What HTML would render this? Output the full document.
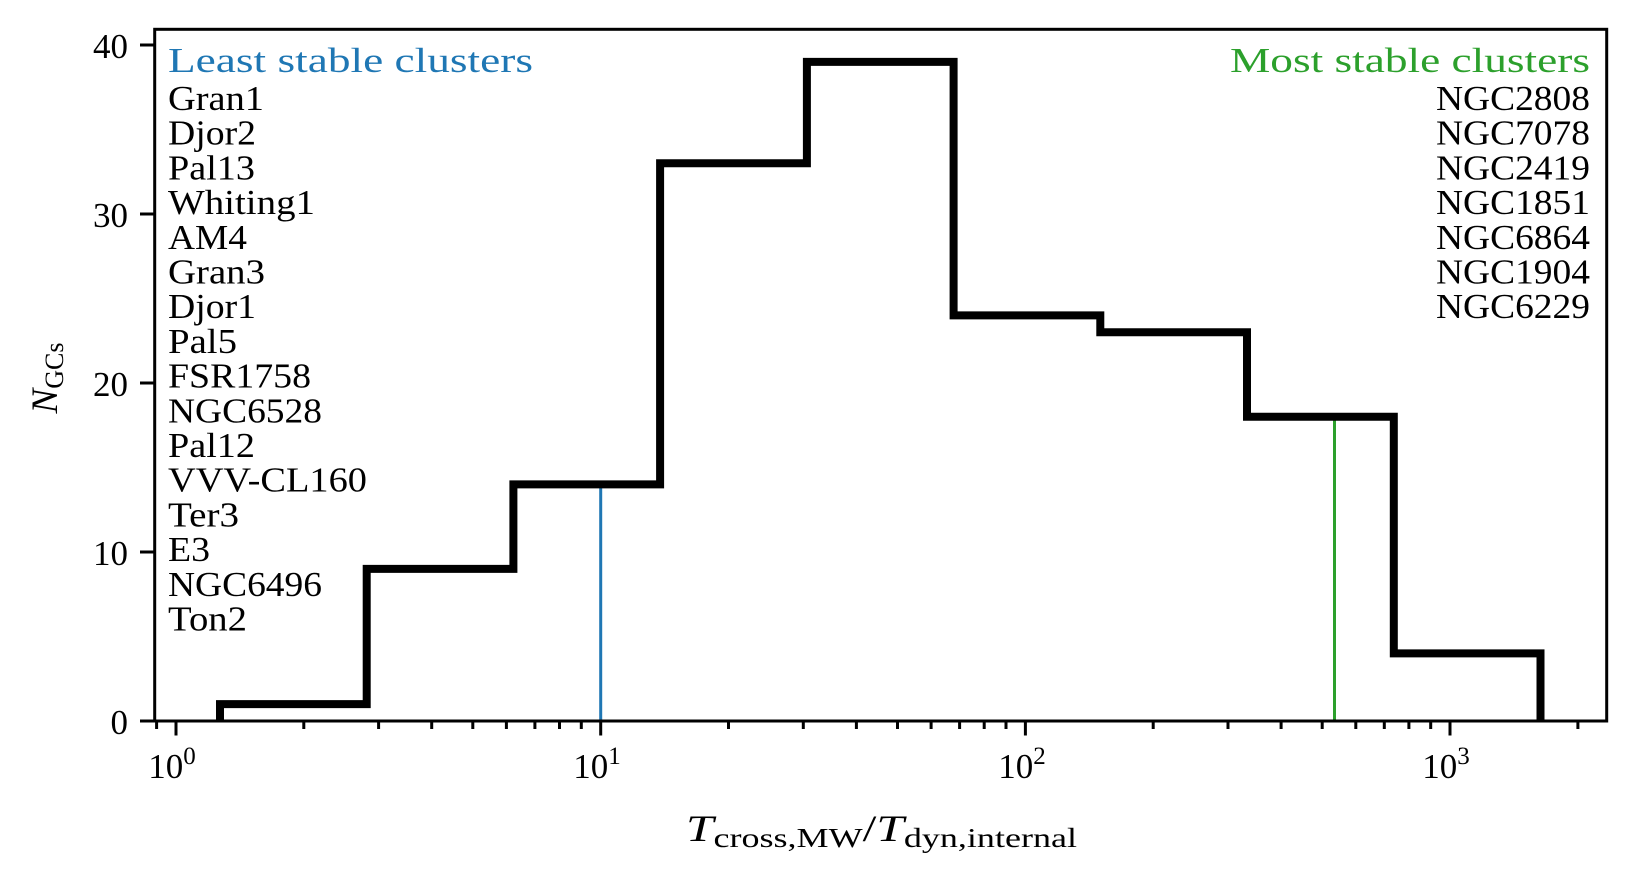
<!DOCTYPE html>
<html><head><meta charset="utf-8"><style>
html,body{margin:0;padding:0;background:#fff;}
svg{display:block;}
text{font-family:"Liberation Serif","DejaVu Serif",serif;}
</style></head><body>
<svg width="1637" height="878" viewBox="0 0 1637 878" xmlns="http://www.w3.org/2000/svg">
<rect width="1637" height="878" fill="#fff"/>
<line x1="600.7" y1="721" x2="600.7" y2="484.4" stroke="#1f77b4" stroke-width="3"/>
<line x1="1334.5" y1="721" x2="1334.5" y2="416.8" stroke="#2ca02c" stroke-width="3"/>
<polyline fill="none" stroke="#000" stroke-width="8" stroke-linejoin="miter"
points="220,721 220,704.1 366.7,704.1 366.7,568.9 513.4,568.9 513.4,484.4 660.1,484.4 660.1,163.3 806.9,163.3 806.9,61.9 953.6,61.9 953.6,315.4 1100.3,315.4 1100.3,332.3 1247,332.3 1247,416.8 1393.8,416.8 1393.8,653.4 1540.5,653.4 1540.5,721"/>
<rect x="154.7" y="29.3" width="1452" height="691.7" fill="none" stroke="#000" stroke-width="3"/>
<g stroke="#000" stroke-width="3">
<line x1="140" y1="721" x2="154.7" y2="721"/>
<line x1="140" y1="552" x2="154.7" y2="552"/>
<line x1="140" y1="383" x2="154.7" y2="383"/>
<line x1="140" y1="214" x2="154.7" y2="214"/>
<line x1="140" y1="45" x2="154.7" y2="45"/>
</g>
<g font-size="35" text-anchor="end">
<text x="128" y="734">0</text>
<text x="128" y="565">10</text>
<text x="128" y="396">20</text>
<text x="128" y="227">30</text>
<text x="128" y="58">40</text>
</g>
<g stroke="#000" stroke-width="3">
<line x1="176" y1="721" x2="176" y2="735.5"/>
<line x1="600.7" y1="721" x2="600.7" y2="735.5"/>
<line x1="1025.4" y1="721" x2="1025.4" y2="735.5"/>
<line x1="1450" y1="721" x2="1450" y2="735.5"/>
<line x1="156.6" y1="721" x2="156.6" y2="729"/>
<line x1="303.8" y1="721" x2="303.8" y2="729"/><line x1="378.6" y1="721" x2="378.6" y2="729"/><line x1="431.7" y1="721" x2="431.7" y2="729"/><line x1="472.8" y1="721" x2="472.8" y2="729"/><line x1="506.4" y1="721" x2="506.4" y2="729"/><line x1="534.9" y1="721" x2="534.9" y2="729"/><line x1="559.5" y1="721" x2="559.5" y2="729"/><line x1="581.3" y1="721" x2="581.3" y2="729"/>
<line x1="728.5" y1="721" x2="728.5" y2="729"/><line x1="803.3" y1="721" x2="803.3" y2="729"/><line x1="856.4" y1="721" x2="856.4" y2="729"/><line x1="897.5" y1="721" x2="897.5" y2="729"/><line x1="931.1" y1="721" x2="931.1" y2="729"/><line x1="959.6" y1="721" x2="959.6" y2="729"/><line x1="984.2" y1="721" x2="984.2" y2="729"/><line x1="1006" y1="721" x2="1006" y2="729"/>
<line x1="1153.2" y1="721" x2="1153.2" y2="729"/><line x1="1228" y1="721" x2="1228" y2="729"/><line x1="1281.1" y1="721" x2="1281.1" y2="729"/><line x1="1322.2" y1="721" x2="1322.2" y2="729"/><line x1="1355.8" y1="721" x2="1355.8" y2="729"/><line x1="1384.3" y1="721" x2="1384.3" y2="729"/><line x1="1408.9" y1="721" x2="1408.9" y2="729"/><line x1="1430.7" y1="721" x2="1430.7" y2="729"/>
<line x1="1577.9" y1="721" x2="1577.9" y2="729"/>
</g>
<g font-size="35" text-anchor="middle">
<text x="172" y="778">10<tspan font-size="25" dy="-14">0</tspan></text>
<text x="597" y="778">10<tspan font-size="25" dy="-14">1</tspan></text>
<text x="1022" y="778">10<tspan font-size="25" dy="-14">2</tspan></text>
<text x="1446" y="778">10<tspan font-size="25" dy="-14">3</tspan></text>
</g>
<text x="686" y="841" font-size="37" textLength="391" lengthAdjust="spacingAndGlyphs"><tspan font-style="italic">T</tspan><tspan font-size="27" dy="6">cross,MW</tspan><tspan dy="-6">/</tspan><tspan font-style="italic">T</tspan><tspan font-size="27" dy="6">dyn,internal</tspan></text>
<text transform="translate(57,378) rotate(-90)" font-size="37" text-anchor="middle"><tspan font-style="italic">N</tspan><tspan font-size="26" dy="6">GCs</tspan></text>
<g font-size="35" lengthAdjust="spacingAndGlyphs">
<text x="168" y="72" fill="#1f77b4" textLength="365" lengthAdjust="spacingAndGlyphs">Least stable clusters</text>
<text x="168" y="110" textLength="96" lengthAdjust="spacingAndGlyphs">Gran1</text>
<text x="168" y="144.7" textLength="88" lengthAdjust="spacingAndGlyphs">Djor2</text>
<text x="168" y="179.4" textLength="87" lengthAdjust="spacingAndGlyphs">Pal13</text>
<text x="168" y="214.1" textLength="147" lengthAdjust="spacingAndGlyphs">Whiting1</text>
<text x="168" y="248.8" textLength="79" lengthAdjust="spacingAndGlyphs">AM4</text>
<text x="168" y="283.5" textLength="97" lengthAdjust="spacingAndGlyphs">Gran3</text>
<text x="168" y="318.2" textLength="88" lengthAdjust="spacingAndGlyphs">Djor1</text>
<text x="168" y="352.9" textLength="69" lengthAdjust="spacingAndGlyphs">Pal5</text>
<text x="168" y="387.6" textLength="143" lengthAdjust="spacingAndGlyphs">FSR1758</text>
<text x="168" y="422.3" textLength="154" lengthAdjust="spacingAndGlyphs">NGC6528</text>
<text x="168" y="457" textLength="87" lengthAdjust="spacingAndGlyphs">Pal12</text>
<text x="168" y="491.7" textLength="199" lengthAdjust="spacingAndGlyphs">VVV-CL160</text>
<text x="168" y="526.4" textLength="71" lengthAdjust="spacingAndGlyphs">Ter3</text>
<text x="168" y="561.1" textLength="42" lengthAdjust="spacingAndGlyphs">E3</text>
<text x="168" y="595.8" textLength="154" lengthAdjust="spacingAndGlyphs">NGC6496</text>
<text x="168" y="630.5" textLength="79" lengthAdjust="spacingAndGlyphs">Ton2</text>
</g>
<g font-size="35">
<text x="1230" y="72" fill="#2ca02c" textLength="360" lengthAdjust="spacingAndGlyphs">Most stable clusters</text>
<text x="1436" y="110" textLength="154" lengthAdjust="spacingAndGlyphs">NGC2808</text>
<text x="1436" y="144.7" textLength="154" lengthAdjust="spacingAndGlyphs">NGC7078</text>
<text x="1436" y="179.4" textLength="154" lengthAdjust="spacingAndGlyphs">NGC2419</text>
<text x="1436" y="214.1" textLength="154" lengthAdjust="spacingAndGlyphs">NGC1851</text>
<text x="1436" y="248.8" textLength="154" lengthAdjust="spacingAndGlyphs">NGC6864</text>
<text x="1436" y="283.5" textLength="154" lengthAdjust="spacingAndGlyphs">NGC1904</text>
<text x="1436" y="318.2" textLength="154" lengthAdjust="spacingAndGlyphs">NGC6229</text>
</g>
</svg>
</body></html>
